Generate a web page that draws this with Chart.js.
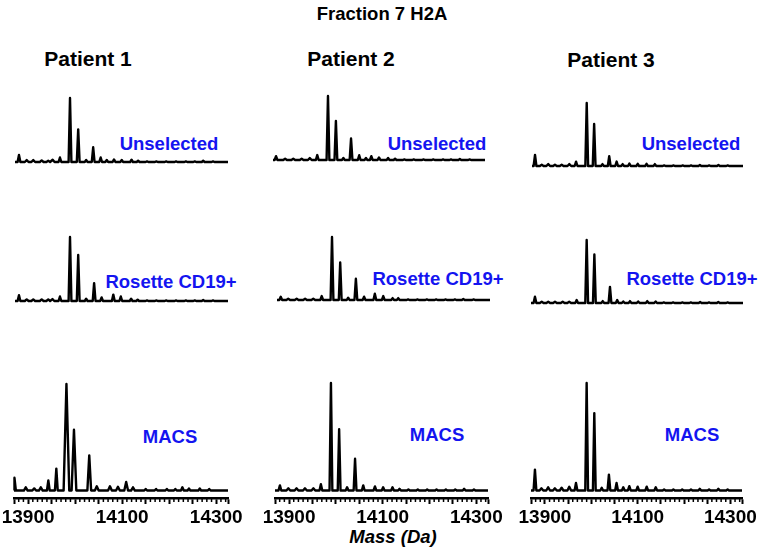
<!doctype html>
<html lang="en">
<head>
<meta charset="utf-8">
<script src="https://cdn.jsdelivr.net/npm/chart.js"></script>
<style>
  html, body { margin: 0; padding: 0; background: #fff; }
  body { position: relative; width: 764px; height: 556px; overflow: hidden;
         font-family: "Liberation Sans", Arial, sans-serif; font-weight: bold; color: #000; }
  .lbl { position: absolute; transform: translate(-50%, -50%); white-space: nowrap; line-height: 1; }
  .title { font-size: 18.5px; }
  .patient { font-size: 21px; }
  .sample { font-size: 18.5px; color: #1414f0; }
  .xtitle { font-size: 18.5px; font-style: italic; }
  canvas { position: absolute; }
</style>
</head>
<body>
<div class="lbl title" style="left:382px; top:14px">Fraction 7 H2A</div>
<div class="lbl patient" style="left:88px; top:58px">Patient 1</div>
<div class="lbl patient" style="left:351px; top:58px">Patient 2</div>
<div class="lbl patient" style="left:611px; top:59px">Patient 3</div>

<div class="lbl sample" style="left:169px; top:144px">Unselected</div>
<div class="lbl sample" style="left:171px; top:282px">Rosette CD19+</div>
<div class="lbl sample" style="left:170px; top:437px">MACS</div>
<div class="lbl sample" style="left:437px; top:144px">Unselected</div>
<div class="lbl sample" style="left:438px; top:279px">Rosette CD19+</div>
<div class="lbl sample" style="left:437px; top:435px">MACS</div>
<div class="lbl sample" style="left:691px; top:144px">Unselected</div>
<div class="lbl sample" style="left:692px; top:279px">Rosette CD19+</div>
<div class="lbl sample" style="left:692px; top:435px">MACS</div>

<div class="lbl xtitle" style="left:393px; top:537px">Mass (Da)</div>

<script>
  // x axis
  var massMin = 13870;
  var massMax = 14325;
  var majorTicks = [13870, 13900, 13950, 14000, 14050, 14100, 14150, 14200, 14250, 14300, 14325];
  var tickLabels = [13900, 14100, 14300];

  // peaks: [mass, relative intensity, half width (Da, optional)]
  var p1Unselected = [
    [13878.5, 11], [13895, 3, 4], [13909, 3, 4], [13927, 2.5, 4], [13941, 2, 4], [13950.5, 3.5, 4],
    [13966, 7], [13987.5, 100], [14005, 51], [14022, 3], [14037, 23], [14053, 7], [14066, 3],
    [14081.5, 4], [14098, 3], [14119, 3.5], [14133, 2], [14152, 1], [14172, 1], [14193, 1],
    [14214, 1], [14235, 1], [14254, 1], [14272, 2], [14293, 1]
  ];
  var p1Rosette = [
    [13878.5, 9], [13895, 2.5, 4], [13909, 2.5, 4], [13927, 2.5, 4], [13941, 2.5, 4], [13950, 3, 4],
    [13966, 7], [13987.5, 100], [14005, 72], [14022, 3.5], [14039, 28], [14055, 5.5], [14080, 10],
    [14096, 7], [14118, 3.5], [14132, 2], [14152, 1], [14172, 1], [14193, 1], [14214, 1],
    [14235, 1], [14254, 1], [14272, 1.5], [14293, 1]
  ];
  var p1Macs = [
    [13872, 12, 2], [13895, 3, 4], [13913, 2, 4], [13927, 3, 4], [13943, 9.5], [13960, 20.6],
    [13981.5, 100, 6], [13997.5, 57, 5], [14030, 33, 4], [14046, 4, 4], [14074, 4, 4], [14091, 3.5, 4],
    [14108.5, 8, 4], [14123, 3, 4], [14150, 1.5], [14172, 1.5], [14195, 1.5], [14213, 1.5],
    [14228, 3], [14242, 2], [14265, 2], [14285, 1.5]
  ];
  var p2Unselected = [
    [13876.5, 6], [13896, 2, 4], [13913.5, 2, 4], [13931.5, 2, 4], [13949, 3, 4], [13965, 7.7],
    [13988, 100], [14005, 61], [14021, 3], [14037.5, 33.6], [14055, 7.4], [14069.5, 3], [14081, 6],
    [14097.5, 4], [14117, 3], [14132, 2], [14152, 1], [14172, 1], [14193, 1], [14214, 1],
    [14235, 1], [14252, 1], [14271, 1.5], [14292, 1]
  ];
  var p2Rosette = [
    [13878, 5], [13894, 2, 4], [13912, 2, 4], [13930, 2, 4], [13947.5, 2, 4], [13965.5, 6.2],
    [13987.5, 100], [14005, 59.6], [14022, 3.7], [14038.5, 33.8], [14056, 5.3], [14079, 10],
    [14097, 6.2], [14117, 3], [14129, 3], [14150, 1], [14170, 1], [14190, 1], [14210, 1],
    [14230, 1], [14250, 1], [14268, 1.5], [14290, 1]
  ];
  var p2Macs = [
    [13880.5, 4.7], [13898.5, 2, 4], [13916, 2, 4], [13934, 2, 4], [13952, 2, 4], [13968, 5.9],
    [13989.5, 100], [14007, 57], [14024, 3], [14041, 29.5], [14058.5, 4.7], [14083.5, 3.7],
    [14101, 3], [14121, 3], [14136, 1.5], [14155, 1], [14175, 1], [14195, 1], [14215, 1],
    [14235, 1], [14255, 1], [14274, 1.5], [14295, 1]
  ];
  var p3Unselected = [
    [13876.5, 17.7], [13891, 2, 4], [13905, 3, 4], [13919.5, 2, 4], [13934, 2, 4], [13950.5, 3, 4],
    [13965, 6.8], [13988, 100], [14004, 66.8], [14022, 3], [14036.5, 15.5], [14052.5, 7],
    [14065.5, 3], [14080, 4], [14098, 3.5], [14117, 3.5], [14135, 3], [14155, 1], [14175, 1],
    [14195, 1], [14213, 1], [14232, 1.5], [14252, 1], [14272, 1.5], [14292, 1]
  ];
  var p3Rosette = [
    [13878.5, 10], [13893, 2, 4], [13907, 2, 4], [13921.5, 2, 4], [13938, 2, 4], [13952, 2, 4],
    [13968, 4.7], [13989.5, 100], [14006, 77], [14024, 3], [14039.5, 25.6], [14055, 4.7],
    [14068, 2.5], [14082.5, 3], [14100, 2.5], [14119.5, 3], [14137.5, 2.5], [14155, 1], [14175, 1],
    [14195, 1], [14213, 1], [14233, 1.5], [14252, 1], [14272, 1.5], [14292, 1]
  ];
  var p3Macs = [
    [13878.5, 19.4], [13892.5, 2, 4], [13907, 3, 4], [13921.5, 2, 4], [13936, 2.5, 4], [13952.5, 3.5, 4],
    [13967, 7], [13990, 100], [14006.5, 72], [14022.5, 2.5], [14038, 14.7], [14054.5, 7], [14069, 3],
    [14082, 4], [14100, 3.5], [14119.5, 3.5], [14139, 3], [14157, 1], [14177, 1], [14196, 1],
    [14215, 1], [14234, 1.5], [14254, 1], [14274, 1.5], [14294, 1]
  ];

  // where each spectrum sits on the page (plot-area edges in px)
  var panels = [
    { peaks: p1Unselected, left: 15, right: 228, top: 98, bottom: 206 },
    { peaks: p1Rosette, left: 15, right: 228, top: 237, bottom: 345 },
    { peaks: p1Macs, left: 14, right: 228, top: 384, bottom: 498, axis: true },
    { peaks: p2Unselected, left: 273, right: 485, top: 96, bottom: 204 },
    { peaks: p2Rosette, left: 277, right: 490, top: 237, bottom: 344 },
    { peaks: p2Macs, left: 275, right: 488, top: 383, bottom: 498, axis: true },
    { peaks: p3Unselected, left: 532, right: 743, top: 103, bottom: 210 },
    { peaks: p3Rosette, left: 531, right: 743, top: 240, bottom: 347 },
    { peaks: p3Macs, left: 531, right: 742, top: 383, bottom: 498, axis: true }
  ];

  var minorStep = 10;

  // stick spectrum: each peak drawn as a narrow triangle on the baseline
  function spectrumPoints(peaks) {
    var pts = [{ x: massMin, y: 0 }];
    peaks.forEach(function (p) {
      var hw = p[2] || 3;
      pts.push({ x: p[0] - hw, y: 0 }, { x: p[0], y: p[1] }, { x: p[0] + hw, y: 0 });
    });
    pts.push({ x: massMax, y: 0 });
    return pts;
  }

  var minorTicksPlugin = {
    id: 'minorTicks',
    afterDraw: function (chart) {
      var xs = chart.scales.x;
      var ctx = chart.ctx;
      ctx.save();
      ctx.strokeStyle = '#000';
      ctx.lineWidth = 1.5;
      for (var v = massMin + minorStep; v < massMax; v += minorStep) {
        if (majorTicks.indexOf(v) >= 0) continue;
        var px = xs.getPixelForValue(v);
        ctx.beginPath();
        ctx.moveTo(px, xs.top);
        ctx.lineTo(px, xs.top + 4);
        ctx.stroke();
      }
      ctx.restore();
    }
  };

  panels.forEach(function (pn) {
    var padT = 6, padL = pn.axis ? 18 : 6, padR = pn.axis ? 24 : 6, padB = pn.axis ? 0 : 6;
    var axisH = 44;
    var w = pn.right - pn.left + padL + padR;
    var h = pn.bottom - pn.top + padT + padB + (pn.axis ? axisH : 0);
    var canvas = document.createElement('canvas');
    canvas.width = w;
    canvas.height = h;
    canvas.style.left = (pn.left - padL) + 'px';
    canvas.style.top = (pn.top - padT) + 'px';
    canvas.style.width = w + 'px';
    canvas.style.height = h + 'px';
    document.body.appendChild(canvas);

    new Chart(canvas, {
      type: 'line',
      data: {
        datasets: [{
          data: spectrumPoints(pn.peaks),
          borderColor: '#000',
          borderWidth: 2.4,
          borderJoinStyle: 'round',
          pointRadius: 0,
          tension: 0,
          fill: false,
          clip: 4
        }]
      },
      options: {
        responsive: false,
        animation: false,
        devicePixelRatio: 1,
        events: [],
        layout: { padding: { top: padT, left: padL, right: padR, bottom: padB } },
        plugins: { legend: { display: false }, tooltip: { enabled: false }, title: { display: false } },
        scales: {
          x: {
            type: 'linear',
            min: massMin,
            max: massMax,
            display: !!pn.axis,
            afterBuildTicks: function (scale) {
              scale.ticks = majorTicks.map(function (v) { return { value: v }; });
            },
            afterFit: function (scale) { scale.height = axisH; },
            border: { display: true, color: '#000', width: 2.4 },
            grid: {
              display: true,
              drawOnChartArea: false,
              drawTicks: true,
              tickLength: 6,
              tickWidth: 2,
              tickColor: '#000'
            },
            ticks: {
              autoSkip: false,
              maxRotation: 0,
              padding: 2,
              color: '#000',
              font: { family: '"Liberation Sans", Arial, sans-serif', size: 19, weight: 'bold' },
              callback: function (v) { return tickLabels.indexOf(v) >= 0 ? String(v) : ''; }
            }
          },
          y: {
            display: false,
            min: pn.axis ? -7 : 0,
            max: 100
          }
        }
      },
      plugins: pn.axis ? [minorTicksPlugin] : []
    });
  });
</script>
</body>
</html>
